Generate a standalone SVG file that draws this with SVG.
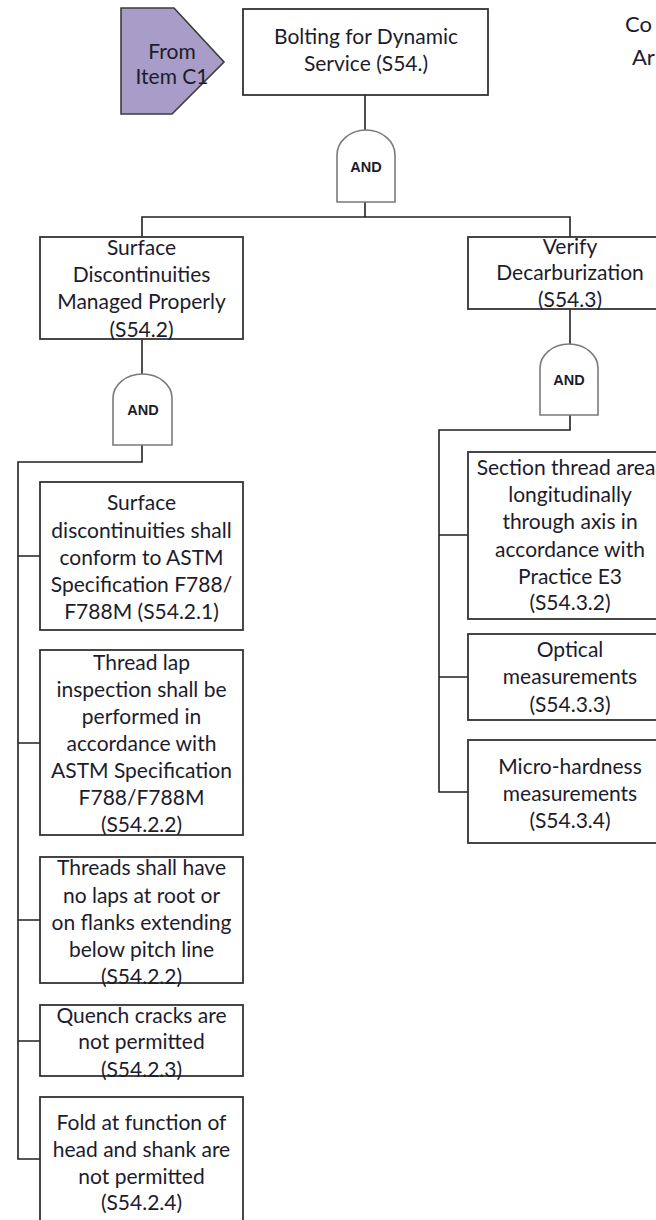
<svg xmlns="http://www.w3.org/2000/svg" width="656" height="1220" viewBox="0 0 656 1220">
  <style>
    .box { fill: #ffffff; stroke: #333333; stroke-width: 1.8; }
    .gate { fill: #ffffff; stroke: #7a7a7a; stroke-width: 1.6; }
    .link { fill: none; stroke: #222222; stroke-width: 1.6; }
    .t { font-family: Lato, "Liberation Sans", sans-serif; font-size: 21px; fill: #1c1c2c; text-anchor: middle; }
    .g { font-family: "Liberation Sans", Arial, sans-serif; font-size: 14.5px; font-weight: bold; fill: #1c1c2c; text-anchor: middle; }
    .note { font-family: Lato, "Liberation Sans", sans-serif; font-size: 22px; fill: #1c1c2c; }
  </style>
  <rect width="656" height="1220" fill="#ffffff"/>

  <!-- connectors -->
  <g id="connectors">
    <path class="link" d="M365,95 V130"/>
    <path class="link" d="M365,202 V217 M142,237 V217 H570 V237"/>
    <path class="link" d="M142,339 V374"/>
    <path class="link" d="M142,445 V462 H18 V1159 H40 M18,556 H40 M18,743 H40 M18,920 H40 M18,1041 H40"/>
    <path class="link" d="M570,309 V344"/>
    <path class="link" d="M570,415 V430 H439 V792 H468 M439,535 H468 M439,677 H468"/>
  </g>

  <!-- off-page transfer in -->
  <g id="from-c1">
    <polygon points="121,8 174,8 224,62 172,114 121,114" fill="#a89cc8" stroke="#3c3c3c" stroke-width="1.6"/>
    <text class="t" x="172" y="59">From</text>
    <text class="t" x="172" y="84">Item C1</text>
  </g>

  <g id="s54">
    <rect class="box" x="243" y="9" width="245" height="86"/>
    <text class="t" x="366" y="44">Bolting for Dynamic</text>
    <text class="t" x="366" y="71">Service (S54.)</text>
  </g>

  <g id="note">
    <text class="note" x="625" y="32">Co</text>
    <text class="note" x="632" y="65">Ar</text>
  </g>

  <g id="and-s54">
    <path class="gate" d="M337,202 V155 A29,25 0 0 1 395,155 V202 Z"/>
    <text class="g" x="366" y="172">AND</text>
  </g>

  <g id="s54-2">
    <rect class="box" x="40" y="237" width="203" height="102"/>
    <text class="t" x="141.5" y="255">Surface</text>
    <text class="t" x="141.5" y="282">Discontinuities</text>
    <text class="t" x="141.5" y="309">Managed Properly</text>
    <text class="t" x="141.5" y="337">(S54.2)</text>
  </g>

  <g id="s54-3">
    <rect class="box" x="468" y="237" width="204" height="72"/>
    <text class="t" x="570" y="254">Verify</text>
    <text class="t" x="570" y="280">Decarburization</text>
    <text class="t" x="570" y="307">(S54.3)</text>
  </g>

  <g id="and-s54-2">
    <path class="gate" d="M113,445 V398 A29.5,24 0 0 1 172,398 V445 Z"/>
    <text class="g" x="143" y="415">AND</text>
  </g>

  <g id="and-s54-3">
    <path class="gate" d="M540,415 V368 A29,24 0 0 1 598,368 V415 Z"/>
    <text class="g" x="569" y="385">AND</text>
  </g>

  <g id="s54-2-1">
    <rect class="box" x="40" y="482" width="203" height="148"/>
    <text class="t" x="141.5" y="510">Surface</text>
    <text class="t" x="141.5" y="538">discontinuities shall</text>
    <text class="t" x="141.5" y="565">conform to ASTM</text>
    <text class="t" x="141.5" y="592">Specification F788/</text>
    <text class="t" x="141.5" y="619">F788M (S54.2.1)</text>
  </g>

  <g id="s54-2-2a">
    <rect class="box" x="40" y="650" width="203" height="185"/>
    <text class="t" x="141.5" y="670">Thread lap</text>
    <text class="t" x="141.5" y="697">inspection shall be</text>
    <text class="t" x="141.5" y="724">performed in</text>
    <text class="t" x="141.5" y="751">accordance with</text>
    <text class="t" x="141.5" y="778">ASTM Specification</text>
    <text class="t" x="141.5" y="805">F788/F788M</text>
    <text class="t" x="141.5" y="832">(S54.2.2)</text>
  </g>

  <g id="s54-2-2b">
    <rect class="box" x="40" y="857" width="203" height="126"/>
    <text class="t" x="141.5" y="875">Threads shall have</text>
    <text class="t" x="141.5" y="903">no laps at root or</text>
    <text class="t" x="141.5" y="930">on flanks extending</text>
    <text class="t" x="141.5" y="957">below pitch line</text>
    <text class="t" x="141.5" y="984">(S54.2.2)</text>
  </g>

  <g id="s54-2-3">
    <rect class="box" x="40" y="1005" width="203" height="71"/>
    <text class="t" x="141.5" y="1023">Quench cracks are</text>
    <text class="t" x="141.5" y="1049">not permitted</text>
    <text class="t" x="141.5" y="1077">(S54.2.3)</text>
  </g>

  <g id="s54-2-4">
    <rect class="box" x="40" y="1097" width="203" height="140"/>
    <text class="t" x="141.5" y="1130">Fold at function of</text>
    <text class="t" x="141.5" y="1157">head and shank are</text>
    <text class="t" x="141.5" y="1184">not permitted</text>
    <text class="t" x="141.5" y="1210">(S54.2.4)</text>
  </g>

  <g id="s54-3-2">
    <rect class="box" x="468" y="452" width="204" height="167"/>
    <text class="t" x="566" y="475">Section thread area</text>
    <text class="t" x="570" y="502">longitudinally</text>
    <text class="t" x="570" y="529">through axis in</text>
    <text class="t" x="570" y="557">accordance with</text>
    <text class="t" x="570" y="584">Practice E3</text>
    <text class="t" x="570" y="610">(S54.3.2)</text>
  </g>

  <g id="s54-3-3">
    <rect class="box" x="468" y="634" width="204" height="86"/>
    <text class="t" x="570" y="657">Optical</text>
    <text class="t" x="570" y="684">measurements</text>
    <text class="t" x="570" y="712">(S54.3.3)</text>
  </g>

  <g id="s54-3-4">
    <rect class="box" x="468" y="740" width="204" height="103"/>
    <text class="t" x="570" y="774">Micro-hardness</text>
    <text class="t" x="570" y="801">measurements</text>
    <text class="t" x="570" y="828">(S54.3.4)</text>
  </g>
</svg>
